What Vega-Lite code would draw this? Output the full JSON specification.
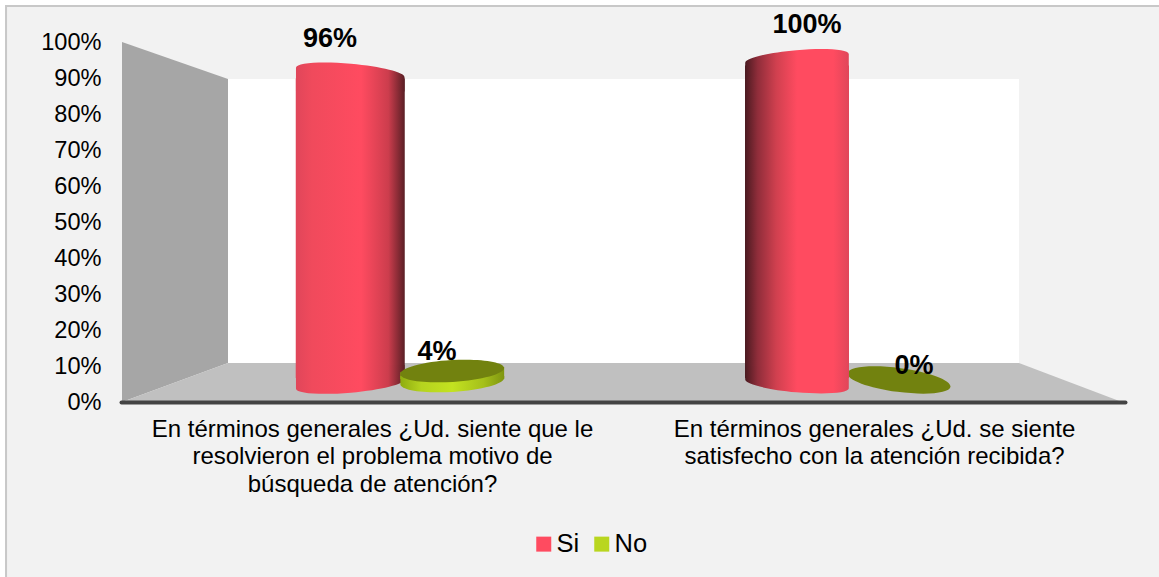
{
"$schema":"https://vega.github.io/schema/vega-lite/v6.json",
"width":1004,"height":360,
"autosize":{"type":"none"},
"padding":{"left":121,"top":42,"right":34,"bottom":175},
"background":"#ffffff",
"config":{"font":"Liberation Sans","view":{"stroke":null}},
"datasets":{
"respuestas":[
{"n":1,"pregunta":"En términos generales ¿Ud. siente que le resolvieron el problema motivo de búsqueda de atención?","serie":"Si","valor":0.96},
{"n":2,"pregunta":"En términos generales ¿Ud. siente que le resolvieron el problema motivo de búsqueda de atención?","serie":"No","valor":0.04},
{"n":3,"pregunta":"En términos generales ¿Ud. se siente satisfecho con la atención recibida?","serie":"Si","valor":1},
{"n":4,"pregunta":"En términos generales ¿Ud. se siente satisfecho con la atención recibida?","serie":"No","valor":0}
],
"planos":[
{"plano":"izquierda","h":0.001,"alto":1,"bajo":0},
{"plano":"izquierda","h":0.1066,"alto":0.8972,"bajo":0.1083},
{"plano":"fondo","h":0.1066,"alto":0.8972,"bajo":0.1083},
{"plano":"fondo","h":0.8944,"alto":0.8972,"bajo":0.1083},
{"plano":"piso","h":0.001,"alto":0,"bajo":0},
{"plano":"piso","h":0.1066,"alto":0.1083,"bajo":0},
{"plano":"piso","h":0.8944,"alto":0.1083,"bajo":0},
{"plano":"piso","h":0.997,"alto":0,"bajo":0}
],
"marco":[{"h1":-0.1145,"h2":1.0398,"v1":1.1,"v2":-0.5083}]
},
"resolve":{"scale":{"x":"independent","y":"independent","xOffset":"independent"},"axis":{"x":"independent","y":"independent"}},
"layer":[
{"data":{"name":"marco"},"mark":{"type":"rect","fill":"#f2f2f2","stroke":"#c8c8c8","strokeWidth":2},
"encoding":{"x":{"field":"h1","type":"quantitative","axis":null,"scale":{"domain":[0,1],"nice":false}},"x2":{"field":"h2"},"y":{"field":"v1","type":"quantitative","axis":null,"scale":{"domain":[0,1],"nice":false}},"y2":{"field":"v2"}}},
{"data":{"name":"planos"},"mark":{"type":"area"},
"encoding":{"x":{"field":"h","type":"quantitative","axis":null,"scale":{"domain":[0,1],"nice":false}},
"y":{"field":"alto","type":"quantitative","stack":null,"scale":{"domain":[0,1],"nice":false},"axis":{"title":null,"orient":"left","values":[0,0.1,0.2,0.3,0.4,0.5,0.6,0.7,0.8,0.9,1],"format":".0%","ticks":false,"domain":false,"grid":false,"labelFontSize":23.6,"labelColor":"#000000","labelPadding":20,"zindex":1}},
"y2":{"field":"bajo"},
"fill":{"field":"plano","type":"nominal","legend":null,"scale":{"domain":["izquierda","fondo","piso"],"range":["#a6a6a6","#ffffff","#c0c0c0"]}}}},
{"data":{"name":"respuestas"},"mark":{"type":"text","opacity":0},
"encoding":{"x":{"field":"pregunta","type":"nominal","sort":null,"scale":{"paddingInner":0,"paddingOuter":0},"axis":{"title":null,"orient":"bottom","ticks":false,"grid":false,"domainColor":"#444444","domainWidth":4,"domainCap":"round","labelAngle":0,"labelAlign":"center","labelBaseline":"top","labelFontSize":24,"labelColor":"#000000","labelPadding":15,"labelLineHeight":27.5,"labelLimit":0,"zindex":1,"labelExpr":"indexof(datum.value,'resolvieron')>=0 ? ['En términos generales ¿Ud. siente que le','resolvieron el problema motivo de','búsqueda de atención?'] : ['En términos generales ¿Ud. se siente','satisfecho con la atención recibida?']"}}}},
{"data":{"name":"respuestas"},"mark":{"type":"bar","opacity":0},
"encoding":{"x":{"field":"pregunta","type":"nominal","sort":null,"axis":null,"scale":{"range":[56.875,950.375],"paddingInner":0,"paddingOuter":0}},
"xOffset":{"field":"serie","type":"nominal","sort":["Si","No"],"scale":{"domain":["Si","No"],"range":[121.375,325.375],"paddingInner":0,"paddingOuter":0}},
"y":{"field":"valor","type":"quantitative","axis":null,"scale":{"domain":[-0.0555,1.0539],"nice":false}},
"color":{"field":"serie","type":"nominal","sort":["Si","No"],"scale":{"domain":["Si","No"],"range":["#ff4b60","#b9d61f"]},
"legend":{"title":null,"orient":"none","direction":"horizontal","legendX":410,"legendY":489,"symbolType":"square","symbolSize":225,"symbolStrokeWidth":0,"labelFontSize":25.5,"labelColor":"#000000","labelOffset":0,"columnPadding":9,"padding":0,"symbolOpacity":1}}}},
{"data":{"name":"respuestas"},"transform":[{"filter":{"field":"n","equal":4}}],
"mark":{"type":"point","filled":true,"opacity":1,"color":"#72820f","size":10816,"shape":"M.991 .131C.975 .257 .518 .3 -.03 .228C-.578 .156 -1.008 -.005 -.991 -.131C-.975 -.257 -.518 -.3 .03 -.228C.578 -.156 1.008 .005 .991 .131Z","yOffset":-4},
"encoding":{"x":{"field":"pregunta","type":"nominal","sort":null,"axis":null,"scale":{"type":"band","domain":["En términos generales ¿Ud. siente que le resolvieron el problema motivo de búsqueda de atención?","En términos generales ¿Ud. se siente satisfecho con la atención recibida?"],"range":[56.875,950.375],"paddingInner":0,"paddingOuter":0}},
"xOffset":{"field":"serie","type":"nominal","scale":{"type":"band","domain":["Si","No"],"range":[121.375,325.375],"paddingInner":0,"paddingOuter":0}},
"y":{"field":"valor","type":"quantitative","axis":null,"scale":{"domain":[-0.0555,1.0539],"nice":false}}}},
{"data":{"name":"respuestas"},"transform":[{"filter":{"field":"n","equal":3}}],
"mark":{"type":"bar","width":104,"yOffset":6,"y2Offset":-6,"color":{"gradient":"linear","x1":0,"x2":1,"y1":0,"y2":0,"stops":[{"offset":0,"color":"#4a1a20"},{"offset":0.12,"color":"#8f2d3a"},{"offset":0.3,"color":"#d0404f"},{"offset":0.5,"color":"#ff4b60"},{"offset":0.85,"color":"#ff4b60"},{"offset":1,"color":"#e0465a"}]}},
"encoding":{"x":{"field":"pregunta","type":"nominal","sort":null,"axis":null,"scale":{"domain":["En términos generales ¿Ud. siente que le resolvieron el problema motivo de búsqueda de atención?","En términos generales ¿Ud. se siente satisfecho con la atención recibida?"],"range":[56.875,950.375],"paddingInner":0,"paddingOuter":0}},
"xOffset":{"field":"serie","type":"nominal","scale":{"domain":["Si","No"],"range":[121.375,325.375],"paddingInner":0,"paddingOuter":0}},
"y":{"field":"valor","type":"quantitative","axis":null,"scale":{"domain":[-0.0555,1.0539],"nice":false}},"y2":{"datum":0}}},
{"data":{"name":"respuestas"},"transform":[{"filter":{"field":"n","equal":3}}],
"mark":{"type":"point","filled":true,"opacity":1,"size":10816,"shape":"M.996 .087C.988 .175 .536 .207 -.014 .159C-.564 .111 -1.004 .001 -.996 -.087L-.996 -.35L.996 -.35Z","color":{"gradient":"linear","x1":0,"x2":1,"y1":0,"y2":0,"stops":[{"offset":0,"color":"#4a1a20"},{"offset":0.12,"color":"#8f2d3a"},{"offset":0.3,"color":"#d0404f"},{"offset":0.5,"color":"#ff4b60"},{"offset":0.85,"color":"#ff4b60"},{"offset":1,"color":"#e0465a"}]}},
"encoding":{"x":{"field":"pregunta","type":"nominal","sort":null,"axis":null,"scale":{"type":"band","domain":["En términos generales ¿Ud. siente que le resolvieron el problema motivo de búsqueda de atención?","En términos generales ¿Ud. se siente satisfecho con la atención recibida?"],"range":[56.875,950.375],"paddingInner":0,"paddingOuter":0}},
"xOffset":{"field":"serie","type":"nominal","scale":{"type":"band","domain":["Si","No"],"range":[121.375,325.375],"paddingInner":0,"paddingOuter":0}},
"y":{"datum":0,"type":"quantitative","axis":null,"scale":{"domain":[-0.0555,1.0539],"nice":false}}}},
{"data":{"name":"respuestas"},"transform":[{"filter":{"field":"n","equal":3}}],
"mark":{"type":"point","filled":true,"opacity":1,"size":10816,"yOffset":-1,"shape":"M.996 -.087C.988 -.175 .536 -.207 -.014 -.159C-.564 -.111 -1.004 -.001 -.996 .087L-.996 .35L.996 .35Z","color":{"gradient":"linear","x1":0,"x2":1,"y1":0,"y2":0,"stops":[{"offset":0,"color":"#4a1a20"},{"offset":0.12,"color":"#8f2d3a"},{"offset":0.3,"color":"#d0404f"},{"offset":0.5,"color":"#ff4b60"},{"offset":0.85,"color":"#ff4b60"},{"offset":1,"color":"#e0465a"}]}},
"encoding":{"x":{"field":"pregunta","type":"nominal","sort":null,"axis":null,"scale":{"type":"band","domain":["En términos generales ¿Ud. siente que le resolvieron el problema motivo de búsqueda de atención?","En términos generales ¿Ud. se siente satisfecho con la atención recibida?"],"range":[56.875,950.375],"paddingInner":0,"paddingOuter":0}},
"xOffset":{"field":"serie","type":"nominal","scale":{"type":"band","domain":["Si","No"],"range":[121.375,325.375],"paddingInner":0,"paddingOuter":0}},
"y":{"field":"valor","type":"quantitative","axis":null,"scale":{"domain":[-0.0555,1.0539],"nice":false}}}},
{"data":{"name":"respuestas"},"transform":[{"filter":{"field":"n","equal":1}}],
"mark":{"type":"bar","width":109,"yOffset":6,"y2Offset":-6,"color":{"gradient":"linear","x1":0,"x2":1,"y1":0,"y2":0,"stops":[{"offset":0,"color":"#e0465a"},{"offset":0.15,"color":"#f04a5c"},{"offset":0.6,"color":"#ff4b60"},{"offset":0.85,"color":"#cc3d4d"},{"offset":1,"color":"#5a1f25"}]}},
"encoding":{"x":{"field":"pregunta","type":"nominal","sort":null,"axis":null,"scale":{"domain":["En términos generales ¿Ud. siente que le resolvieron el problema motivo de búsqueda de atención?","En términos generales ¿Ud. se siente satisfecho con la atención recibida?"],"range":[56.875,950.375],"paddingInner":0,"paddingOuter":0}},
"xOffset":{"field":"serie","type":"nominal","scale":{"domain":["Si","No"],"range":[121.375,325.375],"paddingInner":0,"paddingOuter":0}},
"y":{"field":"valor","type":"quantitative","axis":null,"scale":{"domain":[-0.0555,1.0539],"nice":false}},"y2":{"datum":0}}},
{"data":{"name":"respuestas"},"transform":[{"filter":{"field":"n","equal":1}}],
"mark":{"type":"point","filled":true,"opacity":1,"size":11881,"shape":"M-.996 .087C-.988 .175 -.536 .207 .014 .159C.564 .111 1.004 .001 .996 -.087L.996 -.35L-.996 -.35Z","color":{"gradient":"linear","x1":0,"x2":1,"y1":0,"y2":0,"stops":[{"offset":0,"color":"#e0465a"},{"offset":0.15,"color":"#f04a5c"},{"offset":0.6,"color":"#ff4b60"},{"offset":0.85,"color":"#cc3d4d"},{"offset":1,"color":"#5a1f25"}]}},
"encoding":{"x":{"field":"pregunta","type":"nominal","sort":null,"axis":null,"scale":{"type":"band","domain":["En términos generales ¿Ud. siente que le resolvieron el problema motivo de búsqueda de atención?","En términos generales ¿Ud. se siente satisfecho con la atención recibida?"],"range":[56.875,950.375],"paddingInner":0,"paddingOuter":0}},
"xOffset":{"field":"serie","type":"nominal","scale":{"type":"band","domain":["Si","No"],"range":[121.375,325.375],"paddingInner":0,"paddingOuter":0}},
"y":{"datum":0,"type":"quantitative","axis":null,"scale":{"domain":[-0.0555,1.0539],"nice":false}}}},
{"data":{"name":"respuestas"},"transform":[{"filter":{"field":"n","equal":1}}],
"mark":{"type":"point","filled":true,"opacity":1,"size":11881,"shape":"M-.996 -.087C-.988 -.175 -.536 -.207 .014 -.159C.564 -.111 1.004 -.001 .996 .087L.996 .35L-.996 .35Z","color":{"gradient":"linear","x1":0,"x2":1,"y1":0,"y2":0,"stops":[{"offset":0,"color":"#e0465a"},{"offset":0.15,"color":"#f04a5c"},{"offset":0.6,"color":"#ff4b60"},{"offset":0.85,"color":"#cc3d4d"},{"offset":1,"color":"#5a1f25"}]}},
"encoding":{"x":{"field":"pregunta","type":"nominal","sort":null,"axis":null,"scale":{"type":"band","domain":["En términos generales ¿Ud. siente que le resolvieron el problema motivo de búsqueda de atención?","En términos generales ¿Ud. se siente satisfecho con la atención recibida?"],"range":[56.875,950.375],"paddingInner":0,"paddingOuter":0}},
"xOffset":{"field":"serie","type":"nominal","scale":{"type":"band","domain":["Si","No"],"range":[121.375,325.375],"paddingInner":0,"paddingOuter":0}},
"y":{"field":"valor","type":"quantitative","axis":null,"scale":{"domain":[-0.0555,1.0539],"nice":false}}}},
{"data":{"name":"respuestas"},"transform":[{"filter":{"field":"n","equal":2}}],
"mark":{"type":"bar","width":104,"yOffset":5,"y2Offset":-5,"color":{"gradient":"linear","x1":0,"x2":1,"y1":0,"y2":0,"stops":[{"offset":0,"color":"#8fac10"},{"offset":0.2,"color":"#b5d31f"},{"offset":0.5,"color":"#c3e220"},{"offset":0.8,"color":"#a5c01a"},{"offset":1,"color":"#7f9510"}]}},
"encoding":{"x":{"field":"pregunta","type":"nominal","sort":null,"axis":null,"scale":{"domain":["En términos generales ¿Ud. siente que le resolvieron el problema motivo de búsqueda de atención?","En términos generales ¿Ud. se siente satisfecho con la atención recibida?"],"range":[56.875,950.375],"paddingInner":0,"paddingOuter":0}},
"xOffset":{"field":"serie","type":"nominal","scale":{"domain":["Si","No"],"range":[121.375,325.375],"paddingInner":0,"paddingOuter":0}},
"y":{"field":"valor","type":"quantitative","axis":null,"scale":{"domain":[-0.0555,1.0539],"nice":false}},"y2":{"datum":0}}},
{"data":{"name":"respuestas"},"transform":[{"filter":{"field":"n","equal":2}}],
"mark":{"type":"point","filled":true,"opacity":1,"size":10816,"yOffset":-3,"shape":"M.998 -.061C1.005 .055 .564 .176 .013 .21C-.538 .243 -.991 .177 -.998 .061L-.998 -.17L.998 -.27Z","color":{"gradient":"linear","x1":0,"x2":1,"y1":0,"y2":0,"stops":[{"offset":0,"color":"#8fac10"},{"offset":0.2,"color":"#b5d31f"},{"offset":0.5,"color":"#c3e220"},{"offset":0.8,"color":"#a5c01a"},{"offset":1,"color":"#7f9510"}]}},
"encoding":{"x":{"field":"pregunta","type":"nominal","sort":null,"axis":null,"scale":{"type":"band","domain":["En términos generales ¿Ud. siente que le resolvieron el problema motivo de búsqueda de atención?","En términos generales ¿Ud. se siente satisfecho con la atención recibida?"],"range":[56.875,950.375],"paddingInner":0,"paddingOuter":0}},
"xOffset":{"field":"serie","type":"nominal","scale":{"type":"band","domain":["Si","No"],"range":[121.375,325.375],"paddingInner":0,"paddingOuter":0}},
"y":{"datum":0,"type":"quantitative","axis":null,"scale":{"domain":[-0.0555,1.0539],"nice":false}}}},
{"data":{"name":"respuestas"},"transform":[{"filter":{"field":"n","equal":2}}],
"mark":{"type":"point","filled":true,"opacity":1,"color":"#72820f","size":10816,"shape":"M.998 -.061C1.005 .055 .564 .176 .013 .21C-.538 .243 -.991 .177 -.998 .061C-1.005 -.055 -.564 -.176 -.013 -.21C.538 -.243 .991 -.177 .998 -.061Z"},
"encoding":{"x":{"field":"pregunta","type":"nominal","sort":null,"axis":null,"scale":{"type":"band","domain":["En términos generales ¿Ud. siente que le resolvieron el problema motivo de búsqueda de atención?","En términos generales ¿Ud. se siente satisfecho con la atención recibida?"],"range":[56.875,950.375],"paddingInner":0,"paddingOuter":0}},
"xOffset":{"field":"serie","type":"nominal","scale":{"type":"band","domain":["Si","No"],"range":[121.375,325.375],"paddingInner":0,"paddingOuter":0}},
"y":{"field":"valor","type":"quantitative","axis":null,"scale":{"domain":[-0.0555,1.0539],"nice":false}}}},
{"data":{"name":"respuestas"},"mark":{"type":"text","fontWeight":"bold","fontSize":27,"color":"#000000"},
"encoding":{"x":{"field":"pregunta","type":"nominal","sort":null,"axis":null,"scale":{"type":"band","range":[24,978],"paddingInner":0,"paddingOuter":0}},
"xOffset":{"field":"serie","type":"nominal","sort":["Si","No"],"scale":{"type":"band","domain":["Si","No"],"range":[131.5,345.5],"paddingInner":0,"paddingOuter":0}},
"y":{"field":"valor","type":"quantitative","axis":null,"scale":{"domain":[-0.1056,0.95],"nice":false}},
"text":{"field":"valor","type":"quantitative","format":".0%"}}}
]
}
